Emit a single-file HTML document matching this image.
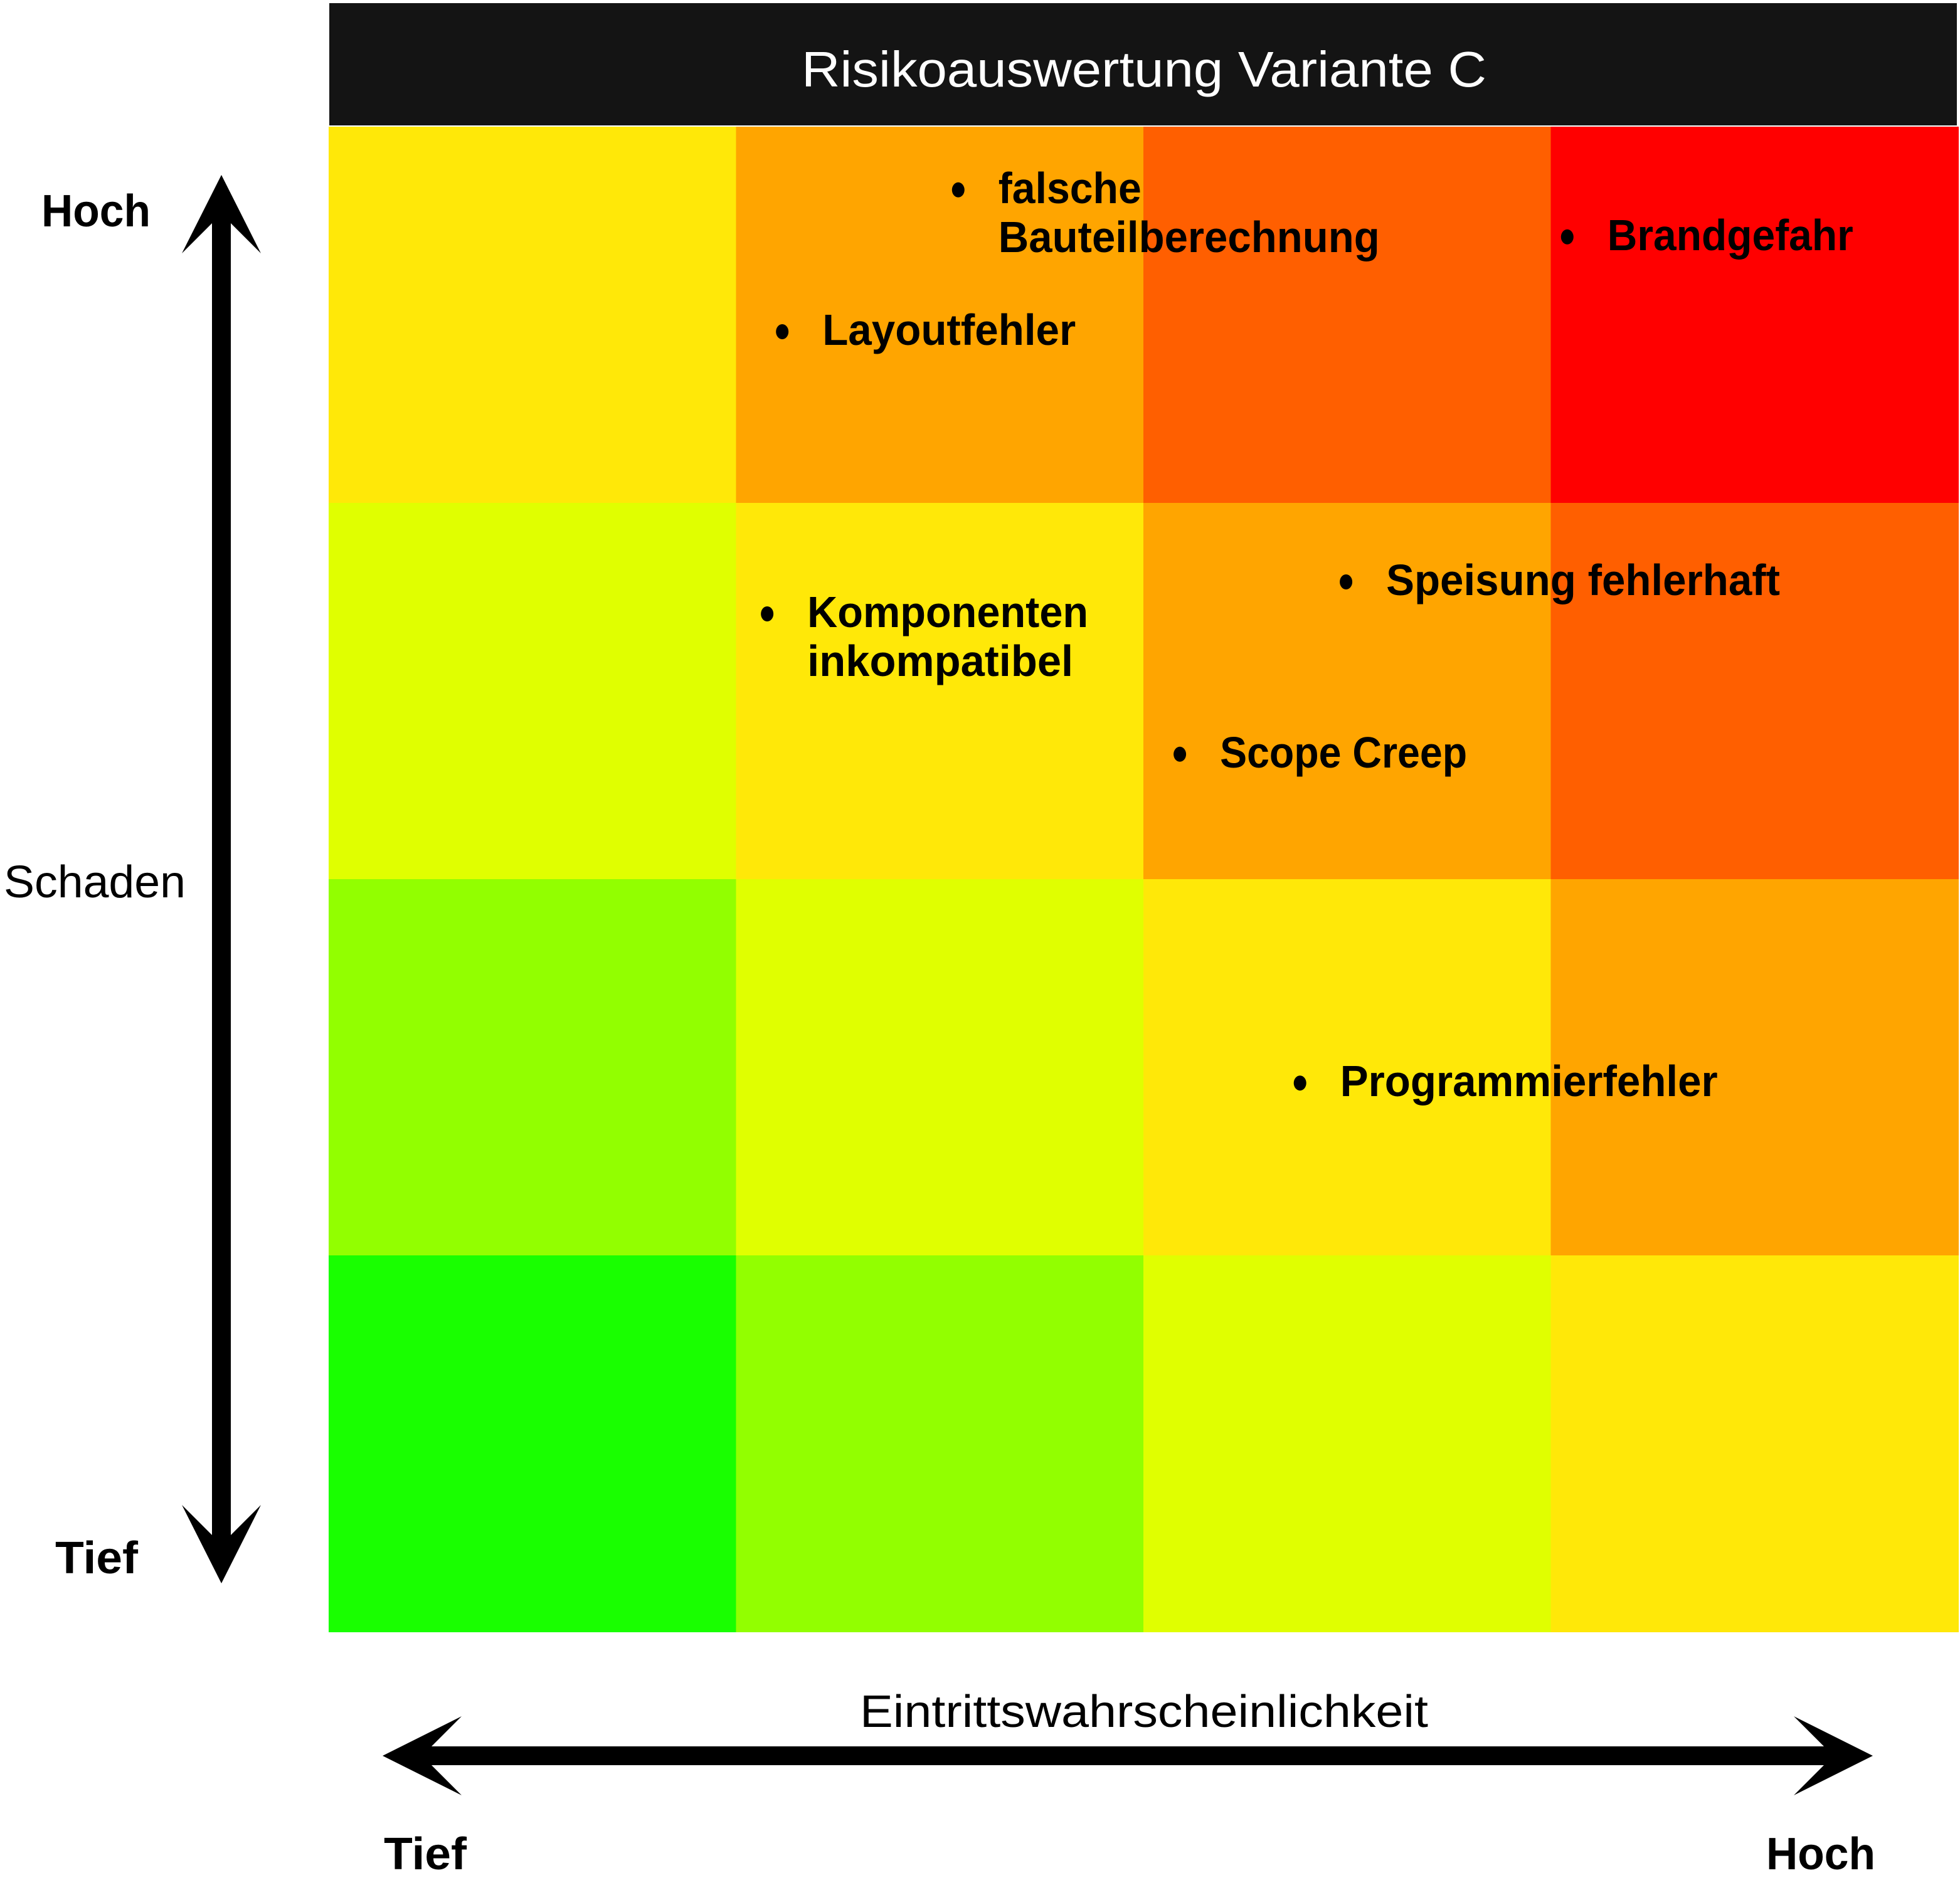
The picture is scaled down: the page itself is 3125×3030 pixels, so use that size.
<!DOCTYPE html>
<html><head><meta charset="utf-8"><style>
html,body{margin:0;padding:0;background:#fff;}
svg{display:block;}
text{font-family:"Liberation Sans",sans-serif;}
</style></head><body>
<svg id="chart" width="3125" height="3030" viewBox="0 0 3125 3030" xmlns="http://www.w3.org/2000/svg">
<rect x="525" y="5" width="2595" height="195" fill="#141414"/>
<text x="1824" y="138" fill="#fff" font-size="80" text-anchor="middle" textLength="1092" lengthAdjust="spacingAndGlyphs">Risikoauswertung Variante C</text>
<g id="cells"></g>
<g id="labels"></g>
<g>
<rect x="338" y="350" width="30" height="2104" fill="#000"/>
<polygon points="353,279 416,404 368,356 338,356 290,404" fill="#000"/>
<polygon points="353,2525 416,2400 368,2448 338,2448 290,2400" fill="#000"/>
<text x="66" y="361" font-size="72" font-weight="bold" textLength="174" lengthAdjust="spacingAndGlyphs">Hoch</text>
<text x="6" y="1431" font-size="72" textLength="290" lengthAdjust="spacingAndGlyphs">Schaden</text>
<text x="88" y="2509" font-size="72" font-weight="bold" textLength="132" lengthAdjust="spacingAndGlyphs">Tief</text>
</g>
<g>
<rect x="682" y="2785" width="2232" height="30" fill="#000"/>
<polygon points="610,2800 736,2737 688,2785 688,2815 736,2863" fill="#000"/>
<polygon points="2986,2800 2860,2737 2908,2785 2908,2815 2860,2863" fill="#000"/>
<text x="1824" y="2754" font-size="72" text-anchor="middle" textLength="906" lengthAdjust="spacingAndGlyphs">Eintrittswahrscheinlichkeit</text>
<text x="612" y="2981" font-size="72" font-weight="bold" textLength="132" lengthAdjust="spacingAndGlyphs">Tief</text>
<text x="2816" y="2981" font-size="72" font-weight="bold" textLength="174" lengthAdjust="spacingAndGlyphs">Hoch</text>
</g>
</svg>
<script>
// Grid rows top (high damage) to bottom; columns low to high probability
const levelColors = ["#19FF00","#92FF00","#E0FF00","#FFE808","#FFA500","#FF5F00","#FF0000"];
const riskLevels = [
  [3,4,5,6],
  [2,3,4,5],
  [1,2,3,4],
  [0,1,2,3]
];
const riskNames = [["falsche","Bauteilberechnung"],["Layoutfehler"],["Brandgefahr"],["Komponenten","inkompatibel"],["Speisung fehlerhaft"],["Scope Creep"],["Programmierfehler"]];
// position in grid units: probability (0-4), damage (0-4, top=4)
const riskProb = [1.644, 1.212, 3.139, 1.175, 2.596, 2.188, 2.483];
const riskDamage = [3.797, 3.42, 3.672, 2.67, 2.755, 2.297, 1.423];
const nameWidths = [[228,608],[404],[392],[448,424],[628],[394],[602]];

const X0=524, X1=3122, Y0=202, Y1=2602;
const cw=(X1-X0)/4, ch=(Y1-Y0)/4;
const xs = p => X0 + p*cw;
const ys = d => Y1 - d*ch;
const NS="http://www.w3.org/2000/svg";
const cells=document.getElementById('cells');
riskLevels.forEach((row,r)=>row.forEach((lv,c)=>{
  const el=document.createElementNS(NS,'rect');
  
  
  el.setAttribute('x',xs(c)); el.setAttribute('y',ys(4-r));
  el.setAttribute('width',cw+1); el.setAttribute('height',ch+1);
  el.setAttribute('fill',levelColors[lv]);
  cells.appendChild(el);
}));
const labels=document.getElementById('labels');
riskNames.forEach((lines,i)=>{
  const x=xs(riskProb[i]), y=ys(riskDamage[i]);
  const dot=document.createElementNS(NS,'ellipse');
  
  
  dot.setAttribute('cx',x-64); dot.setAttribute('cy',y-21);
  dot.setAttribute('rx',10); dot.setAttribute('ry',12);
  labels.appendChild(dot);
  lines.forEach((ln,j)=>{
    const t=document.createElementNS(NS,'text');
    
    
    t.setAttribute('x',x); t.setAttribute('y',y+j*78);
    t.setAttribute('font-size','70'); t.setAttribute('font-weight','bold');
    t.setAttribute('textLength',nameWidths[i][j]);
    t.setAttribute('lengthAdjust','spacingAndGlyphs');
    t.textContent=ln;
    labels.appendChild(t);
  });
});
</script>
</body></html>
